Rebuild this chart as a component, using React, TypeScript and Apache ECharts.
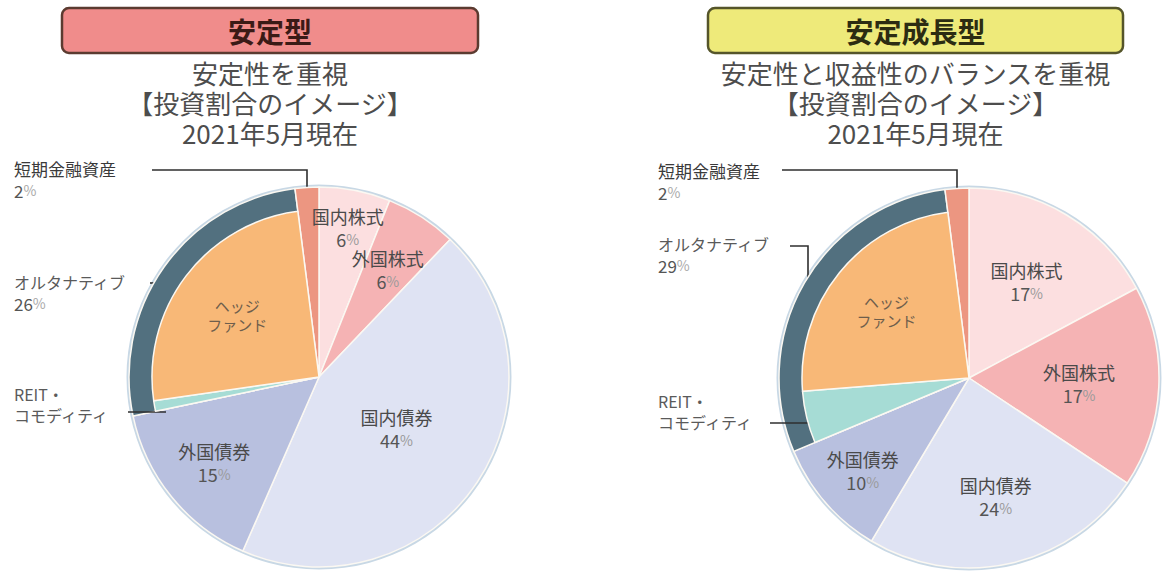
import React, { useEffect, useRef } from "react";
import * as echarts from "echarts";

// ---------- data ----------
const categories = ["国内株式", "外国株式", "国内債券", "外国債券", "REIT・\nコモディティ", "ヘッジ\nファンド", "短期金融資産"];
const stableValues = [6, 6, 44, 15, 1, 25, 2];
const growthValues = [17, 17, 24, 10, 5, 24, 2];
const alternativeName = "オルタナティブ";
const stableAlternative = 26;
const growthAlternative = 29;
const panelTitles = ["安定型", "安定成長型"];
const panelSubtitles = ["安定性を重視", "安定性と収益性のバランスを重視"];
const imageLabel = "【投資割合のイメージ】";
const asOfLabel = "2021年5月現在";

// ---------- style ----------
const FONT = '"Noto Sans CJK JP", "Noto Sans", sans-serif';
const sliceColors = ["#fcdfe0", "#f5b3b4", "#dfe3f3", "#b8c0df", "#a6dcd5", "#f8b877", "#ec9681"];
const ringColor = "#52707f";

type Panel = {
  cx: number; cy: number; r: number; innerR: number;
  boxX: number; boxW: number; boxFill: string; boxStroke: string; titleColor: string;
  insideFrac: number[];
  hedgeFrac: number;
  shortLbl: { x: number; y: number; line: number[][] };
  altLbl: { x: number; y: number; line: number[][] };
  reitLbl: { x: number; y: number; line: number[][] };
};

const panels: Panel[] = [
  {
    cx: 319, cy: 377, r: 190, innerR: 167,
    boxX: 62, boxW: 416, boxFill: "#f08c8b", boxStroke: "#5b3b30", titleColor: "#3b1a16",
    insideFrac: [0.8, 0.67, 0.49, 0.71],
    hedgeFrac: 0.54,
    shortLbl: { x: 14, y: 158, line: [[307, 193], [307, 170], [152, 170]] },
    altLbl: { x: 14, y: 272, line: [[168, 283], [159, 283], [150, 283]] },
    reitLbl: { x: 14, y: 384, line: [[166, 412], [147, 412], [128, 412]] },
  },
  {
    cx: 969, cy: 378, r: 190, innerR: 167,
    boxX: 708, boxW: 415, boxFill: "#eeea7a", boxStroke: "#55552a", titleColor: "#2c2c12",
    insideFrac: [0.59, 0.58, 0.64, 0.74],
    hedgeFrac: 0.56,
    shortLbl: { x: 658, y: 160, line: [[957, 196], [957, 170], [782, 170]] },
    altLbl: { x: 658, y: 234, line: [[808, 303], [808, 246], [790, 246]] },
    reitLbl: { x: 658, y: 391, line: [[818, 423], [794, 423], [770, 423]] },
  },
];

function midAngles(vals: number[]) {
  const total = vals.reduce((a, b) => a + b, 0);
  let acc = 0;
  return vals.map((v) => {
    const m = ((acc + v / 2) / total) * 360;
    acc += v;
    return m;
  });
}

function polar(cx: number, cy: number, rad: number, deg: number) {
  const a = (deg * Math.PI) / 180;
  return [cx + rad * Math.sin(a), cy - rad * Math.cos(a)];
}

const rich = {
  n: { fontFamily: FONT, fontSize: 18, color: "#4a4a4a", lineHeight: 23 },
  v: { fontFamily: FONT, fontSize: 18, color: "#555", lineHeight: 23 },
  p: { fontFamily: FONT, fontSize: 14, color: "#9a9a9a", lineHeight: 23 },
  o: { fontFamily: FONT, fontSize: 17, color: "#3a3a3a", lineHeight: 21.5 },
  ov: { fontFamily: FONT, fontSize: 17, color: "#555", lineHeight: 21.5 },
  op: { fontFamily: FONT, fontSize: 14, color: "#aaa", lineHeight: 21.5 },
  h: { fontFamily: FONT, fontSize: 15, color: "#6e5e4c", lineHeight: 19 },
  t: { fontFamily: FONT, fontSize: 16, color: "#5a5a5a", lineHeight: 20.5 },
};

function buildSeries(values: number[], altValue: number, p: Panel) {
  const outerVals = [values[0], values[1], values[2], values[3], altValue, values[6]];
  const outerMid = midAngles(outerVals);
  const innerMid = midAngles(values);
  const lineStyle = { color: "#2f2f2f", width: 1.6 };

  const outerData: any[] = [0, 1, 2, 3].map((i) => ({
    name: categories[i],
    value: values[i],
    itemStyle: { color: sliceColors[i] },
    label: { show: true, position: "inside", formatter: `{n|${categories[i]}}\n{v|${values[i]}}{p|%}` },
  }));
  outerData.push({
    name: alternativeName,
    value: altValue,
    itemStyle: { color: ringColor },
    label: { show: true, position: "outside", formatter: `{t|${alternativeName}}\n{ov|${altValue}}{op|%}` },
    labelLine: { show: true, length: 5, length2: 5, smooth: false, lineStyle },
  });
  outerData.push({
    name: categories[6],
    value: values[6],
    itemStyle: { color: sliceColors[6] },
    label: { show: true, position: "outside", formatter: `{o|${categories[6]}}\n{ov|${values[6]}}{op|%}` },
    labelLine: { show: true, length: 5, length2: 5, smooth: false, lineStyle },
  });

  const innerData = values.map((v, i) => {
    const isAlt = i === 4 || i === 5;
    const item: any = {
      name: categories[i],
      value: v,
      itemStyle: isAlt ? { color: sliceColors[i] } : { color: "rgba(0,0,0,0)", borderWidth: 0 },
      label: { show: false },
    };
    if (i === 4) {
      item.label = {
        show: true, position: "outside",
        formatter: categories[4].split("\n").map((s) => `{t|${s}}`).join("\n"),
      };
      item.labelLine = { show: true, length: 5, length2: 5, smooth: false, lineStyle };
    }
    if (i === 5) {
      item.label = {
        show: true, position: "inside",
        formatter: categories[5].split("\n").map((s) => `{h|${s}}`).join("\n"),
      };
    }
    return item;
  });

  const outline = {
    type: "pie", silent: true, center: [p.cx, p.cy], radius: [p.r - 1, p.r + 2.5],
    startAngle: 90, label: { show: false }, labelLine: { show: false },
    itemStyle: { color: "#c8d8e5", borderWidth: 0 },
    data: [{ name: "outline", value: 1 }],
    z: 1,
  };

  const outer = {
    type: "pie", silent: true, center: [p.cx, p.cy], radius: [0, p.r],
    startAngle: 90, clockwise: true, avoidLabelOverlap: false,
    itemStyle: { borderColor: "#fbf8f2", borderWidth: 1.5 },
    label: { fontFamily: FONT, rich },
    data: outerData,
    z: 2,
    labelLayout: (params: any) => {
      const i = params.dataIndex;
      if (i <= 3) {
        const [x, y] = polar(p.cx, p.cy, p.insideFrac[i] * p.r, outerMid[i]);
        return { x, y, align: "center", verticalAlign: "middle" };
      }
      const c = i === 4 ? p.altLbl : p.shortLbl;
      return { x: c.x, y: c.y, align: "left", verticalAlign: "top", labelLinePoints: c.line };
    },
  };

  const inner = {
    type: "pie", silent: true, center: [p.cx, p.cy], radius: [0, p.innerR],
    startAngle: 90, clockwise: true, avoidLabelOverlap: false,
    itemStyle: { borderColor: "#fbf8f2", borderWidth: 1.5 },
    label: { fontFamily: FONT, rich },
    data: innerData,
    z: 3,
    labelLayout: (params: any) => {
      const i = params.dataIndex;
      if (i === 5) {
        const [x, y] = polar(p.cx, p.cy, p.hedgeFrac * p.r, innerMid[5]);
        return { x, y, align: "center", verticalAlign: "middle" };
      }
      if (i === 4) {
        const c = p.reitLbl;
        return { x: c.x, y: c.y, align: "left", verticalAlign: "top", labelLinePoints: c.line };
      }
      return {};
    },
  };
  return [outline, outer, inner];
}

function buildGraphics() {
  const g: any[] = [];
  panels.forEach((p, k) => {
    const cx = p.boxX + p.boxW / 2;
    g.push({
      type: "rect", shape: { x: p.boxX, y: 8, width: p.boxW, height: 45, r: 7 },
      style: { fill: p.boxFill, stroke: p.boxStroke, lineWidth: 2.5 }, silent: true,
    });
    g.push({
      type: "text", x: cx, y: 31,
      style: { text: panelTitles[k], fontFamily: FONT, fontSize: 28, fontWeight: "bold", fill: p.titleColor, align: "center", verticalAlign: "middle" },
      silent: true,
    });
    [panelSubtitles[k], imageLabel, asOfLabel].forEach((t, j) => {
      g.push({
        type: "text", x: cx, y: 72 + j * 30,
        style: { text: t, fontFamily: FONT, fontSize: 26, fill: "#4d4d4d", align: "center", verticalAlign: "middle" },
        silent: true,
      });
    });
  });
  return g;
}

export default function App() {
  const ref = useRef<HTMLDivElement>(null);
  useEffect(() => {
    if (!ref.current) return;
    const chart = echarts.init(ref.current, undefined, { renderer: "svg" });
    chart.setOption({
      animation: false,
      backgroundColor: "#ffffff",
      graphic: buildGraphics(),
      series: [
        ...buildSeries(stableValues, stableAlternative, panels[0]),
        ...buildSeries(growthValues, growthAlternative, panels[1]),
      ],
    });
    return () => chart.dispose();
  }, []);
  return <div ref={ref} style={{ position: "fixed", left: 0, top: 0, width: 1167, height: 574 }} />;
}
